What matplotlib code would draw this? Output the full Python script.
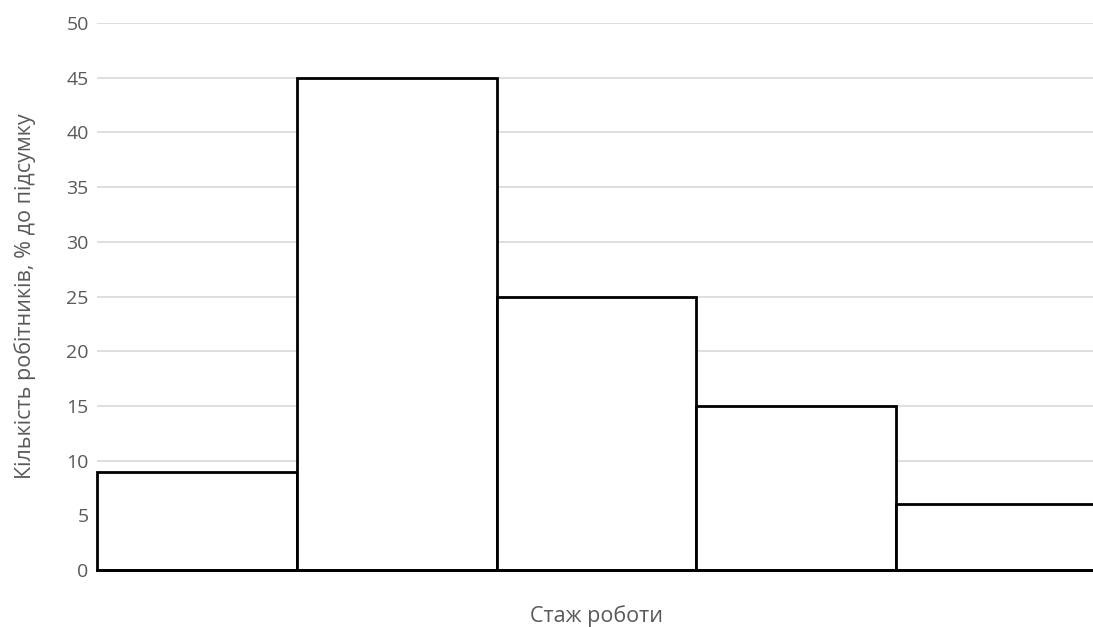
import matplotlib
matplotlib.use("Agg")
import matplotlib.pyplot as plt

categories = ["1", "2", "3", "4", "5"]
values = [9, 45, 25, 15, 6]
yticks = [0, 5, 10, 15, 20, 25, 30, 35, 40, 45, 50]

plt.rcParams['font.family'] = ['Open Sans', 'DejaVu Sans']

fig = plt.figure(figsize=(10.93, 6.27), dpi=100)
ax = fig.add_axes([97/1093, 1 - 570/627, (1096 - 97)/1093, (570 - 23)/627])

x = list(range(len(values)))
ax.bar(x, values, width=1.0, align='edge', facecolor='white', edgecolor='black',
       linewidth=2.0, zorder=3, clip_on=False)

ax.set_xlim(0, len(values))
ax.set_ylim(0, 50)
ax.set_yticks(yticks)
ax.set_xticks([])
ax.yaxis.grid(True, color='#d9d9d9', linewidth=1.2, zorder=0)
for s in ['top', 'right', 'left']:
    ax.spines[s].set_visible(False)
ax.spines['bottom'].set_color('black')
ax.spines['bottom'].set_linewidth(2.0)
ax.spines['bottom'].set_zorder(4)
ax.tick_params(axis='y', length=0, labelsize=14, labelcolor='#595959', pad=6)

ax.set_xlabel("Стаж роботи", fontsize=15.5, color='#595959', labelpad=25)
ax.set_ylabel("Кількість робітників, % до підсумку", fontsize=15.5, color='#595959', labelpad=22)

fig.savefig("out.png", dpi=100)
